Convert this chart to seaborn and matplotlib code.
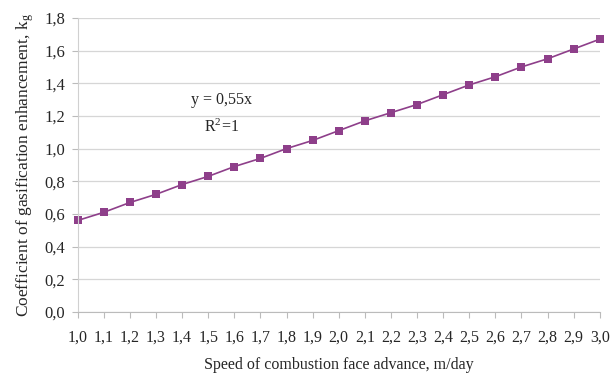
import numpy as np
import pandas as pd
import seaborn as sns
import matplotlib.pyplot as plt

speed = [1.0, 1.1, 1.2, 1.3, 1.4, 1.5, 1.6, 1.7, 1.8, 1.9, 2.0,
         2.1, 2.2, 2.3, 2.4, 2.5, 2.6, 2.7, 2.8, 2.9, 3.0]
kg = [0.56, 0.61, 0.67, 0.72, 0.78, 0.83, 0.89, 0.94, 1.00, 1.05, 1.11,
      1.17, 1.22, 1.27, 1.33, 1.39, 1.44, 1.50, 1.55, 1.61, 1.67]
y_ticks = [0.0, 0.2, 0.4, 0.6, 0.8, 1.0, 1.2, 1.4, 1.6, 1.8]

df = pd.DataFrame({"speed": speed, "kg": kg})

sns.set_style("white")
plt.rcParams['font.family'] = ['Liberation Serif', 'DejaVu Serif']
plt.rcParams['mathtext.fontset'] = 'stix'

fig = plt.figure(figsize=(6.12, 3.74), dpi=100)
ax = fig.add_axes([0.127, 0.166, 0.853, 0.786])

sns.lineplot(data=df, x="speed", y="kg", ax=ax, color="#8E3F8A",
             marker="s", markersize=5.5, markeredgewidth=0, linewidth=1.2)

ax.set_xlim(1.0, 3.0)
ax.set_ylim(0, 1.8)
ax.set_yticks(y_ticks)
ax.set_yticklabels([f"{v:.1f}".replace(".", ",") for v in y_ticks], fontsize=12)
ax.set_xticks(speed)
ax.set_xticklabels([f"{v:.1f}".replace(".", ",") for v in speed], fontsize=11.5)
ax.tick_params(axis='x', length=4, color="#BBBBBB", pad=9, bottom=True)
ax.tick_params(axis='y', length=4, color="#BBBBBB", left=True, pad=5)
ax.yaxis.grid(True, color="#D6D6D6", linewidth=0.9)
ax.xaxis.grid(False)
for s in ["top", "right"]:
    ax.spines[s].set_visible(False)
ax.spines["left"].set_color("#D0D0D0")
ax.spines["bottom"].set_color("#BBBBBB")
for line in ax.lines:
    line.set_clip_on(False)

ax.set_xlabel("Speed of combustion face advance, m/day", fontsize=11.5, labelpad=8)
ax.set_ylabel(r"Coefficient of gasification enhancement, k$_\mathregular{g}$", fontsize=12.5, labelpad=6)

ax.text(1.55, 1.30, "y = 0,55x", fontsize=11.5, ha="center", va="center")
ax.text(1.55, 1.13, r"R$^\mathregular{2}$=1", fontsize=11.5, ha="center", va="center")

fig.savefig("out.png", dpi=100)
